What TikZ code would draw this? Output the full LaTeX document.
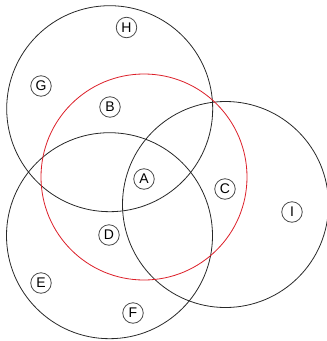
\documentclass[tikz,border=0pt]{standalone}
\usepackage{fontspec}
\setmainfont{Liberation Sans}
\usepackage{tikz}
\usetikzlibrary{positioning}
\definecolor{ringGray}{RGB}{40,40,40}
\definecolor{ringRed} {RGB}{220,30,40}

\begin{document}
\begin{tikzpicture}[x=1pt,y=-1pt,
          set/.style={circle,draw=ringGray,line width=0.8pt,minimum size=206pt,inner sep=0pt},
          el/.style={circle,draw=ringGray!85,line width=0.8pt,minimum size=20.5pt,inner sep=0pt,
                     font=\fontsize{14}{14}\selectfont}]
  \useasboundingbox (0,0) rectangle (327,341);
  % the four sets
  \node[set] (top)   at (109.7,108.7) {};
  \node[set] (low)   at (109.5,235.7) {};
  \node[set] (right) at (225.5,204.5) {};
  \node[set,draw=ringRed] (mid) at (144,177) {};
  % the elements
  \node[el] (H) at (126.5,27.5) {H};
  \node[el] (G) at (41,86)   {G};
  \node[el] (B) at (110,107) {B};
  \node[el] (A) at (144,179) {A};
  \node[el] (C) at (225,189) {C};
  \node[el] (I) at (292,212) {I};
  \node[el] (D) at (109,235) {D};
  \node[el] (E) at (41,283)  {E};
  \node[el] (F) at (133,313) {F};
\end{tikzpicture}
\end{document}
